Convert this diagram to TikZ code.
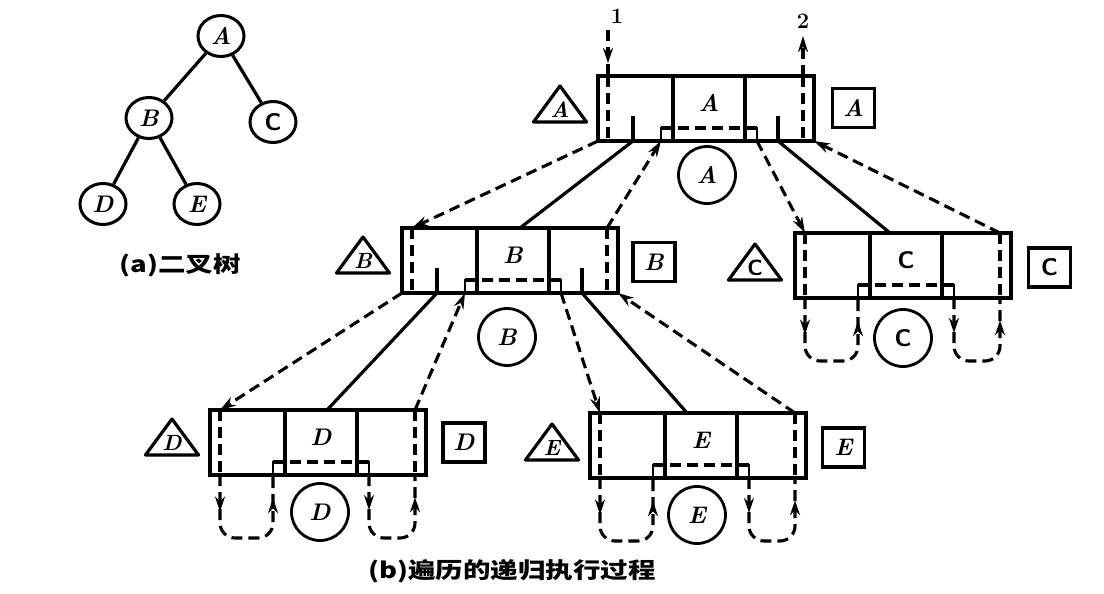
\documentclass[tikz,border=0pt]{standalone}
\usepackage{fontspec}
\newfontfamily\cjk[FakeStretch=1.25]{Noto Sans CJK SC}
\usetikzlibrary{arrows.meta,shapes.geometric,decorations.markings,calc}
\tikzset{
  boxline/.style={line width=3.4pt},
  dsh/.style={line width=3.1pt, dash pattern=on 11pt off 6pt},
  sol/.style={line width=3.2pt},
  thinsq/.style={line width=2.4pt},
  arrend/.style={-{Stealth[length=16pt,width=10pt]}},
  midtip/.style={postaction={decorate},decoration={markings,mark=at position #1 with {\arrow{Stealth[length=15pt,width=10pt]}}}},
  looptips/.style={postaction={decorate},decoration={markings,
      mark=at position 0.22 with {\arrow{Stealth[length=15pt,width=10pt]}},
      mark=at position 0.86 with {\arrow{Stealth[length=15pt,width=10pt]}}}},
  lt/.style={font=\fontsize{24}{28}\selectfont\bfseries\itshape, inner sep=0pt},
  tl/.style={font=\fontsize{22}{26}\selectfont\bfseries\itshape, inner sep=0pt},
  recbox/.style={draw, boxline, minimum width=216pt, minimum height=65pt, inner sep=0pt, outer sep=0pt},
  sqbox/.style={draw, line width=3.2pt, minimum width=42pt, minimum height=39pt, inner sep=0pt, font=\fontsize{24}{28}\selectfont\bfseries\itshape},
  circbox/.style={draw, circle, line width=2.8pt, minimum size=57pt, inner sep=0pt, font=\fontsize{24}{28}\selectfont\bfseries\itshape},
  tnode/.style={draw, ellipse, line width=3pt, minimum width=46pt, minimum height=41pt, inner sep=0pt, font=\fontsize{24}{28}\selectfont\bfseries\itshape},
  captext/.style={font=\cjk\bfseries\fontsize{22}{26}\selectfont, inner sep=0pt},
  numtext/.style={font=\fontsize{22}{26}\selectfont\bfseries, inner sep=0pt}
}
% box: name, left, top, letter
\newcommand\rbox[4]{%
  \node[recbox] (#1) at (#2+108,#3+32.5) {};
  \coordinate (#1-dlt) at (#2+10,#3);
  \coordinate (#1-dlb) at (#2+10,#3+65);
  \coordinate (#1-drt) at (#2+205,#3);
  \coordinate (#1-drb) at (#2+205,#3+65);
  \coordinate (#1-sl) at (#2+63,#3+65);
  \coordinate (#1-sr) at (#2+159,#3+65);
  \coordinate (#1-tkl) at (#2+35,#3+65);
  \coordinate (#1-tkr) at (#2+180,#3+65);
  \draw[boxline] (#2+75,#3) -- (#2+75,#3+65);
  \draw[boxline] (#2+147,#3) -- (#2+147,#3+65);
  \node[lt] (#1-let) at (#2+111,#3+27) {#4};
  \draw[dsh] (#1-dlt) -- (#1-dlb);
  \draw[dsh] (#1-drt) -- (#1-drb);
  \draw[thinsq] (#2+63,#3+52) rectangle (#2+75,#3+65);
  \draw[thinsq] (#2+147,#3+52) rectangle (#2+159,#3+65);
  \draw[dsh] (#2+63,#3+52) -- (#2+159,#3+52);
}
\newcommand\rticks[1]{%
  \draw[sol] ($(#1-tkl)+(0,-25)$) -- (#1-tkl);
  \draw[sol] ($(#1-tkr)+(0,-25)$) -- (#1-tkr);
}
\newcommand\rloops[1]{%
  \draw[dsh,looptips,rounded corners=15pt] (#1-dlb) -- ($(#1-dlb)+(0,63)$) -- ($(#1-sl)+(0,63)$) -- (#1-sl);
  \draw[dsh,looptips,rounded corners=15pt] (#1-sr) -- ($(#1-sr)+(0,63)$) -- ($(#1-drb)+(0,63)$) -- (#1-drb);
}
% triangle: name, cx, base y, letter
\newcommand\rtri[4]{%
  \node[tl] (#1) at (#2,#3-12) {#4};
  \draw[line width=3.2pt, line join=round] ($(#1.center)+(-26.5,12)$) -- ($(#1.center)+(0,-24)$) -- ($(#1.center)+(26.5,12)$) -- cycle;
}
\begin{document}
\begin{tikzpicture}[x=1pt,y=-1pt]
\fill[white] (0,0) rectangle (1104,594);
\useasboundingbox (0,0) rectangle (1104,594);

% (a) binary tree
\node[tnode] (tA) at (221,36) {A};
\node[tnode] (tB) at (149,118) {B};
\node[tnode] (tC) at (273,122) {\sffamily\upshape C};
\node[tnode] (tD) at (103,204) {D};
\node[tnode] (tE) at (197,204) {E};
\draw[sol] (tA) -- (tB);
\draw[sol] (tA) -- (tC);
\draw[sol] (tB) -- (tD);
\draw[sol] (tB) -- (tE);
\node[captext] (capa) at (180,265) {(a)二叉树};

% boxes
\rbox{A}{598}{76}{A}
\rbox{B}{402}{228}{B}
\rbox{C}{795}{233}{\sffamily\upshape C}
\rbox{D}{210}{410}{D}
\rbox{E}{590}{413}{E}
\rticks{A}
\rticks{B}
\rloops{C}
\rloops{D}
\rloops{E}

% entry and exit
\coordinate (in1) at (608,30);
\coordinate (out2) at (803,36);
\node[numtext] (n1) at (617,16) {1};
\node[numtext] (n2) at (803,21) {2};
\draw[dsh,midtip=0.72] (in1) -- (A-dlt);
\draw[dsh,arrend] (A-drt) -- (out2);

% triangles
\rtri{trA}{560}{122}{A}
\rtri{trB}{363}{273}{B}
\rtri{trC}{755}{280}{\sffamily\upshape C}
\rtri{trD}{172}{455}{D}
\rtri{trE}{552}{460}{E}

% squares
\node[sqbox] (sA) at (853.5,108) {A};
\node[sqbox] (sB) at (654,262) {B};
\node[sqbox] (sC) at (1049.5,267.5) {\sffamily\upshape C};
\node[sqbox] (sD) at (464,442.5) {D};
\node[sqbox] (sE) at (843.5,447.5) {E};

% circles
\node[circbox] (cA) at (707,175) {A};
\node[circbox] (cB) at (507,337) {B};
\node[circbox] (cC) at (903,338) {\sffamily\upshape C};
\node[circbox] (cD) at (320,512) {D};
\node[circbox] (cE) at (697,515) {E};

% connectors A
\draw[dsh,arrend] (A.south west) -- (B-dlt);
\draw[sol] (A-tkl) -- ([xshift=10pt]B.north);
\draw[dsh,arrend] (B-drt) -- (A-sl);
\draw[dsh,arrend] (A-sr) -- (C-dlt);
\draw[sol] (A-tkr) -- ([xshift=-13pt]C.north);
\draw[dsh,arrend] (C-drt) -- (A.south east);

% connectors B
\draw[dsh,arrend] (B.south west) -- (D-dlt);
\draw[sol] (B-tkl) -- ([xshift=9pt]D.north);
\draw[dsh,arrend] (D-drt) -- (B-sl);
\draw[dsh,arrend] (B-sr) -- (E-dlt);
\draw[sol] (B-tkr) -- ([xshift=-11pt]E.north);
\draw[dsh,arrend] (E-drt) -- (B.south east);

\node[captext] (capb) at (512,571) {(b)遍历的递归执行过程};
\end{tikzpicture}
\end{document}
